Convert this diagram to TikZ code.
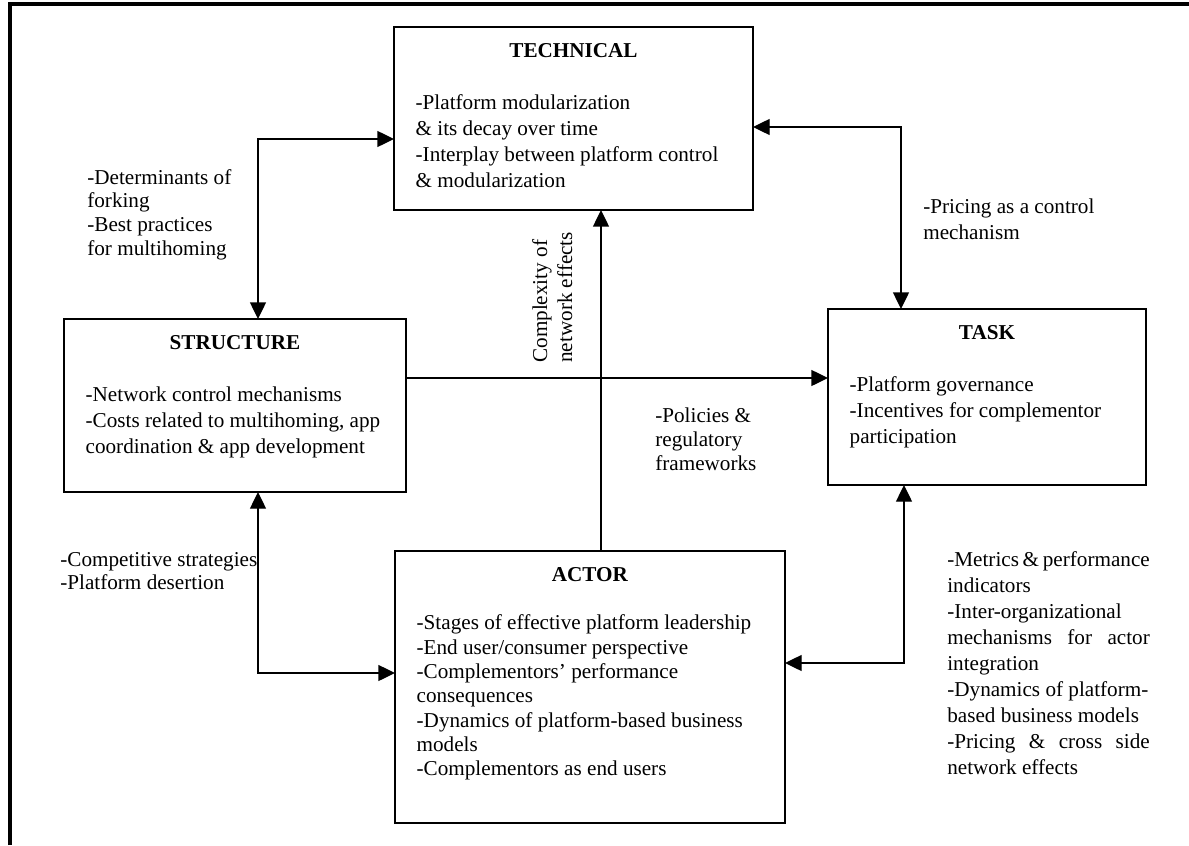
\documentclass[tikz,border=0pt]{standalone}
\usepackage{fontspec}
\setmainfont{Liberation Serif}
\usetikzlibrary{arrows.meta, positioning}
\tikzstyle{factor} = [rectangle, draw, line width=0.7pt, anchor=north west, inner xsep=13pt, inner ysep=9.6pt, outer sep=0pt]
\tikzstyle{note} = [text width=140pt, align=flush left, inner sep=0pt, anchor=base west, font=\fontsize{12.7}{14.2}\selectfont]
\tikzstyle{link} = [line width=0.8pt, >={Triangle[length=10pt, width=9.6pt]}]

\begin{document}
\begin{tikzpicture}[x=0.6pt, y=-0.6pt, font=\fontsize{12.7}{15.6}\selectfont]
\useasboundingbox (0,0) rectangle (1189,845);
\draw [line width=2.2pt] (10,845) -- (10,4) -- (1189,4);
%Factors
\node (technical) [factor] at (394,27) {\parbox[t][90.6pt][t]{189.4pt}{\centering\textbf{TECHNICAL}\par\vspace{\baselineskip}\raggedright
-Platform modularization\\ \& its decay over time\\ -Interplay between platform control\\ \& modularization}};
\node (structure) [factor] at (64,319) {\parbox[t][84.6pt][t]{179.2pt}{\centering\textbf{STRUCTURE}\par\vspace{\baselineskip}\raggedright
-Network control mechanisms\\ -Costs related to multihoming, app\\ coordination \& app development}};
\node (task) [factor] at (828,309) {\parbox[t][86.4pt][t]{164.8pt}{\centering\textbf{TASK}\par\vspace{\baselineskip}\raggedright
-Platform governance\\ -Incentives for complementor\\ participation}};
\node (actor) [factor] at (395,551) {\parbox[t][144pt][t]{208pt}{\fontsize{12.7}{14.6}\selectfont\centering\textbf{ACTOR}\par\vspace{\baselineskip}\raggedright
-Stages of effective platform leadership\\ -End user/consumer perspective\\ -Complementors’ performance\\ consequences\\ -Dynamics of platform-based business\\ models\\ -Complementors as end users}};
%Relations
\node (forking) [note] at (87,184) {-Determinants of\\forking\\-Best practices\\for multihoming};
\node (pricing) [note, font=\fontsize{12.7}{16}\selectfont] at (923,213) {-Pricing as a control\\mechanism};
\node (complexity) [note, text width=85pt, rotate=90, font=\fontsize{12.7}{15}\selectfont] at (547,363) {Complexity of\\network effects};
\node (policies) [note, font=\fontsize{12.7}{14.4}\selectfont] at (655,422) {-Policies \&\\regulatory\\frameworks};
\node (competitive) [note, font=\fontsize{12.7}{13.8}\selectfont] at (60,566) {-Competitive strategies\\-Platform desertion};
\node (metrics) [note, text width=121.5pt, align=justify, font=\fontsize{12.7}{15.6}\selectfont] at (947,566) {-Metrics \& performance\\ indicators\\ -Inter-organizational\\ mechanisms for actor\linebreak integration\\ -Dynamics of platform-\\ based business models\\ -Pricing \& cross side\linebreak network effects};
\draw [link, <->] ([xshift=116.4pt]structure.north west) |- ([yshift=-12.3pt]technical.west);
\draw [link, <->] ([yshift=-5.1pt]technical.east) -| ([xshift=43.8pt]task.north west);
\draw [link, ->] ([yshift=16.5pt]structure.east) -- ([yshift=16.5pt]structure.east -| task.west);
\draw [link, ->] ([xshift=6.6pt]actor.north) -- ([xshift=6.6pt]actor.north |- technical.south);
\draw [link, <->] ([xshift=116.4pt]structure.south west) |- ([yshift=8.4pt]actor.west);
\draw [link, <->] ([xshift=45.6pt]task.south west) |- ([yshift=14.4pt]actor.east);
\end{tikzpicture}
\end{document}
